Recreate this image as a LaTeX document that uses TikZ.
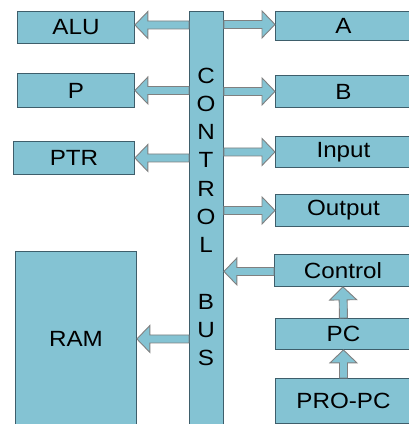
\documentclass[tikz,border=0pt]{standalone}
\usepackage{fontspec}
\setmainfont{Liberation Sans}[FakeStretch=1.1]
\usetikzlibrary{calc}
\definecolor{boxfill}{HTML}{84C3D3}
\definecolor{boxline}{HTML}{3E5E6B}
\definecolor{arrline}{HTML}{808080}
\newcommand\fatarr[2]{%
  \coordinate (h) at ($(#2)!13pt!(#1)$);
  \draw[fatarrow] ($(#1)!4pt!90:(#2)$) -- ($(h)!4pt!90:(#2)$) -- ($(h)!13.5pt!90:(#2)$) -- (#2)
    -- ($(h)!13.5pt!-90:(#2)$) -- ($(h)!4pt!-90:(#2)$) -- ($(#1)!4pt!-90:(#2)$) -- cycle;}
\begin{document}
\begin{tikzpicture}[x=1pt,y=-1pt,
  box/.style={draw=boxline, fill=boxfill, line width=0.9pt, inner sep=0pt, anchor=north west,
    font=\fontsize{22}{26}\selectfont},
  fatarrow/.style={draw=arrline, fill=boxfill, line width=0.9pt, line join=miter}]
\useasboundingbox (0,0) rectangle (409,424);
\clip (0,0) rectangle (409,424);
% left column
\node[box, minimum width=117pt, minimum height=32pt] (alu) at (17,11) {ALU};
\node[box, minimum width=117pt, minimum height=34pt] (p) at (17,73) {P};
\node[box, minimum width=121pt, minimum height=33pt] (ptr) at (13,141) {PTR};
\node[box, minimum width=121pt, minimum height=174pt] (ram) at (15,251) {RAM};
% right column
\node[box, minimum width=136pt, minimum height=29pt] (a) at (275,11) {A};
\node[box, minimum width=136pt, minimum height=32pt] (b) at (275,75) {B};
\node[box, minimum width=136pt, minimum height=31pt] (in) at (275,136) {Input};
\node[box, minimum width=136pt, minimum height=32pt] (out) at (275,194) {Output};
\node[box, minimum width=137pt, minimum height=32pt] (ctl) at (274,254) {Control};
\node[box, minimum width=136pt, minimum height=31pt] (pc) at (275,318) {PC};
\node[box, minimum width=136pt, minimum height=45pt] (propc) at (275,378) {PRO-PC};
% bus
\node[box, minimum width=34pt, minimum height=425pt] (bus) at (189,11) {};
\node[inner sep=0pt, align=center, font=\fontsize{22}{28.25}\selectfont] (bustxt) at (206,216.75)
  {C\\O\\N\\T\\R\\O\\L\\[28.25pt]B\\U\\S};
% arrows
\coordinate (s1) at ([yshift=2.5pt]bus.west |- alu.east);
\coordinate (e1) at ([yshift=2.5pt]alu.east);
\fatarr{s1}{e1}
\fatarr{bus.west |- p.east}{p.east}
\fatarr{bus.west |- ptr.east}{ptr.east}
\coordinate (s4) at ([yshift=-0.5pt]bus.west |- ram.east);
\coordinate (e4) at ([yshift=-0.5pt]ram.east);
\fatarr{s4}{e4}
\coordinate (s5) at ([yshift=1.5pt]bus.east |- a.west);
\coordinate (e5) at ([yshift=1.5pt]a.west);
\fatarr{s5}{e5}
\fatarr{bus.east |- b.west}{b.west}
\fatarr{bus.east |- in.west}{in.west}
\fatarr{bus.east |- out.west}{out.west}
\coordinate (s9) at ([yshift=-1pt]ctl.west);
\coordinate (e9) at ([yshift=-1pt]bus.east |- ctl.west);
\fatarr{s9}{e9}
\fatarr{pc.north}{ctl.south}
\fatarr{propc.north}{pc.south}
\end{tikzpicture}
\end{document}
